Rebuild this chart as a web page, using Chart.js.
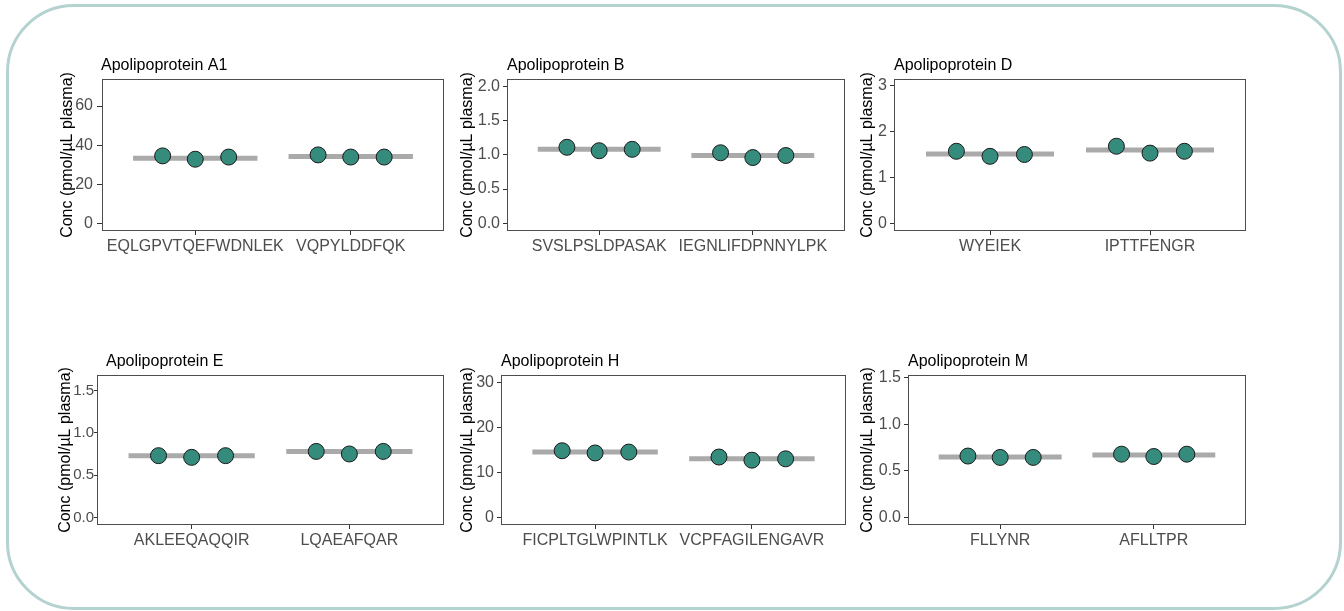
<!DOCTYPE html>
<html>
<head>
<meta charset="utf-8">
<script src="https://cdn.jsdelivr.net/npm/chart.js@4"></script>
<style>
  html, body { margin: 0; padding: 0; background: #ffffff; }
  #page { position: relative; width: 1344px; height: 611px; overflow: hidden; }
  #frame {
    position: absolute; left: 6px; top: 4px; width: 1330px; height: 600px;
    border: 3px solid #b4d2cf; border-radius: 68px;
  }
  canvas { position: absolute; }
</style>
</head>
<body>
<div id="page"><div id="frame"></div></div>
<script>
// ---- data ----
const panelTitles = ['Apolipoprotein A1', 'Apolipoprotein B', 'Apolipoprotein D',
                     'Apolipoprotein E', 'Apolipoprotein H', 'Apolipoprotein M'];
const peptides = [
  ['EQLGPVTQEFWDNLEK', 'VQPYLDDFQK'],
  ['SVSLPSLDPASAK', 'IEGNLIFDPNNYLPK'],
  ['WYEIEK', 'IPTTFENGR'],
  ['AKLEEQAQQIR', 'LQAEAFQAR'],
  ['FICPLTGLWPINTLK', 'VCPFAGILENGAVR'],
  ['FLLYNR', 'AFLLTPR']
];
// three replicates per peptide
const replicateValues = [
  [[34.6, 32.9, 34.0], [35.1, 34.0, 34.0]],
  [[1.11, 1.06, 1.08], [1.03, 0.96, 0.99]],
  [[1.57, 1.46, 1.50], [1.68, 1.53, 1.57]],
  [[0.73, 0.71, 0.73], [0.78, 0.75, 0.78]],
  [[14.8, 14.3, 14.5], [13.4, 12.7, 13.0]],
  [[0.66, 0.645, 0.645], [0.68, 0.655, 0.68]]
];
const meanValues = [[33.4, 34.3], [1.08, 0.99], [1.51, 1.60], [0.73, 0.78], [14.5, 13.0], [0.65, 0.67]];
const yTicks = [[0, 20, 40, 60], [0, 0.5, 1, 1.5, 2], [0, 1, 2, 3], [0, 0.5, 1, 1.5], [0, 10, 20, 30], [0, 0.5, 1, 1.5]];
const yTickDecimals = [0, 1, 0, 1, 0, 1];
const yMin = [-3.7, -0.112, -0.168, -0.09, -1.68, -0.082];
const yMax = [73.8, 2.107, 3.146, 1.684, 31.6, 1.532];
const yAxisTitle = 'Conc (pmol/µL plasma)';

// ---- layout (pixels) ----
const panelBoxes = [
  { left: 102, top: 79,  right: 447,  bottom: 231, titleX: 101, tick: 5, pad: 4, tickFont: 16, titlePad: 3 },
  { left: 507, top: 79,  right: 848,  bottom: 231, titleX: 507, tick: 4, pad: 3, tickFont: 16, titlePad: 3 },
  { left: 894, top: 79,  right: 1249, bottom: 231, titleX: 894, tick: 4, pad: 3, tickFont: 16, titlePad: 3 },
  { left: 97,  top: 375, right: 447,  bottom: 525, titleX: 106, tick: 3, pad: 0, tickFont: 15, titlePad: 1 },
  { left: 501, top: 375, right: 849,  bottom: 525, titleX: 501, tick: 4, pad: 3, tickFont: 16, titlePad: 3 },
  { left: 908, top: 375, right: 1249, bottom: 525, titleX: 908, tick: 4, pad: 3, tickFont: 16, titlePad: 3 }
];
const columnLefts = [55, 455, 855];
const jitter = [-0.21, 0, 0.215];

Chart.defaults.font.family = "'Liberation Sans', Arial, sans-serif";
Chart.defaults.font.size = 16;

const boxPlugin = {
  id: 'panelBox',
  beforeDatasetsDraw(chart) {
    const a = chart.chartArea, ctx = chart.ctx;
    ctx.save();
    ctx.strokeStyle = '#4d4d4d';
    ctx.lineWidth = 1;
    ctx.strokeRect(a.left + 0.5, a.top + 0.5, a.right - a.left - 1, a.bottom - a.top - 1);
    ctx.restore();
  },
  afterDraw(chart, args, opts) {
    const ctx = chart.ctx;
    ctx.save();
    ctx.fillStyle = '#000000';
    ctx.font = "16px 'Liberation Sans', Arial, sans-serif";
    ctx.textBaseline = 'middle';
    ctx.textAlign = 'left';
    ctx.fillText(opts.text, opts.x, chart.chartArea.top - 13.5);
    ctx.restore();
  }
};

panelTitles.forEach((title, p) => {
  const box = panelBoxes[p];
  const cLeft = columnLefts[p % 3];
  const cTop = box.top - 30;
  const yw = box.left - cLeft;
  const width = box.right + 6 - cLeft;
  const height = box.bottom + 30 - cTop;

  const canvas = document.createElement('canvas');
  canvas.width = width; canvas.height = height;
  canvas.style.left = cLeft + 'px'; canvas.style.top = cTop + 'px';
  canvas.style.width = width + 'px'; canvas.style.height = height + 'px';
  document.getElementById('page').appendChild(canvas);

  const pointData = [];
  replicateValues[p].forEach((reps, g) => {
    reps.forEach((v, r) => pointData.push({ x: g + 1 + jitter[r], y: v }));
  });

  const datasets = [{
    type: 'scatter',
    data: pointData,
    pointRadius: 8,
    pointBackgroundColor: '#358b7c',
    pointBorderColor: '#1a1a1a',
    pointBorderWidth: 1,
    order: 0
  }];
  meanValues[p].forEach((m, g) => {
    datasets.push({
      type: 'line',
      data: [{ x: g + 1 - 0.4, y: m }, { x: g + 1 + 0.4, y: m }],
      borderColor: '#aaaaaa',
      borderWidth: 5,
      borderCapStyle: 'butt',
      pointRadius: 0,
      order: 1
    });
  });

  new Chart(canvas, {
    type: 'scatter',
    data: { datasets },
    plugins: [boxPlugin],
    options: {
      responsive: false,
      animation: false,
      devicePixelRatio: 1,
      layout: { padding: { top: 30, right: 6, left: 0, bottom: 0 } },
      plugins: {
        legend: { display: false },
        tooltip: { enabled: false },
        panelBox: { text: title, x: box.titleX - cLeft }
      },
      scales: {
        x: {
          type: 'linear',
          min: 0.4, max: 2.6,
          afterBuildTicks: s => { s.ticks = [1, 2].map(v => ({ value: v })); },
          afterFit: s => { s.height = 30; },
          ticks: {
            color: '#4d4d4d', padding: 2, maxRotation: 0, autoSkip: false,
            callback: v => peptides[p][Math.round(v) - 1]
          },
          grid: { drawOnChartArea: false, drawTicks: true, tickLength: 4, color: '#333333' },
          border: { display: false }
        },
        y: {
          min: yMin[p], max: yMax[p],
          afterBuildTicks: s => { s.ticks = yTicks[p].map(v => ({ value: v })); },
          afterFit: s => { s.width = yw; },
          ticks: {
            color: '#4d4d4d', padding: box.pad, font: { size: box.tickFont },
            callback: v => v.toFixed(yTickDecimals[p])
          },
          grid: { drawOnChartArea: false, drawTicks: true, tickLength: box.tick, color: '#333333' },
          border: { display: false },
          title: {
            display: true, text: yAxisTitle, color: '#000000',
            font: { size: 16 }, padding: { top: box.titlePad, bottom: 0 }
          }
        }
      }
    }
  });
});
</script>
</body>
</html>
